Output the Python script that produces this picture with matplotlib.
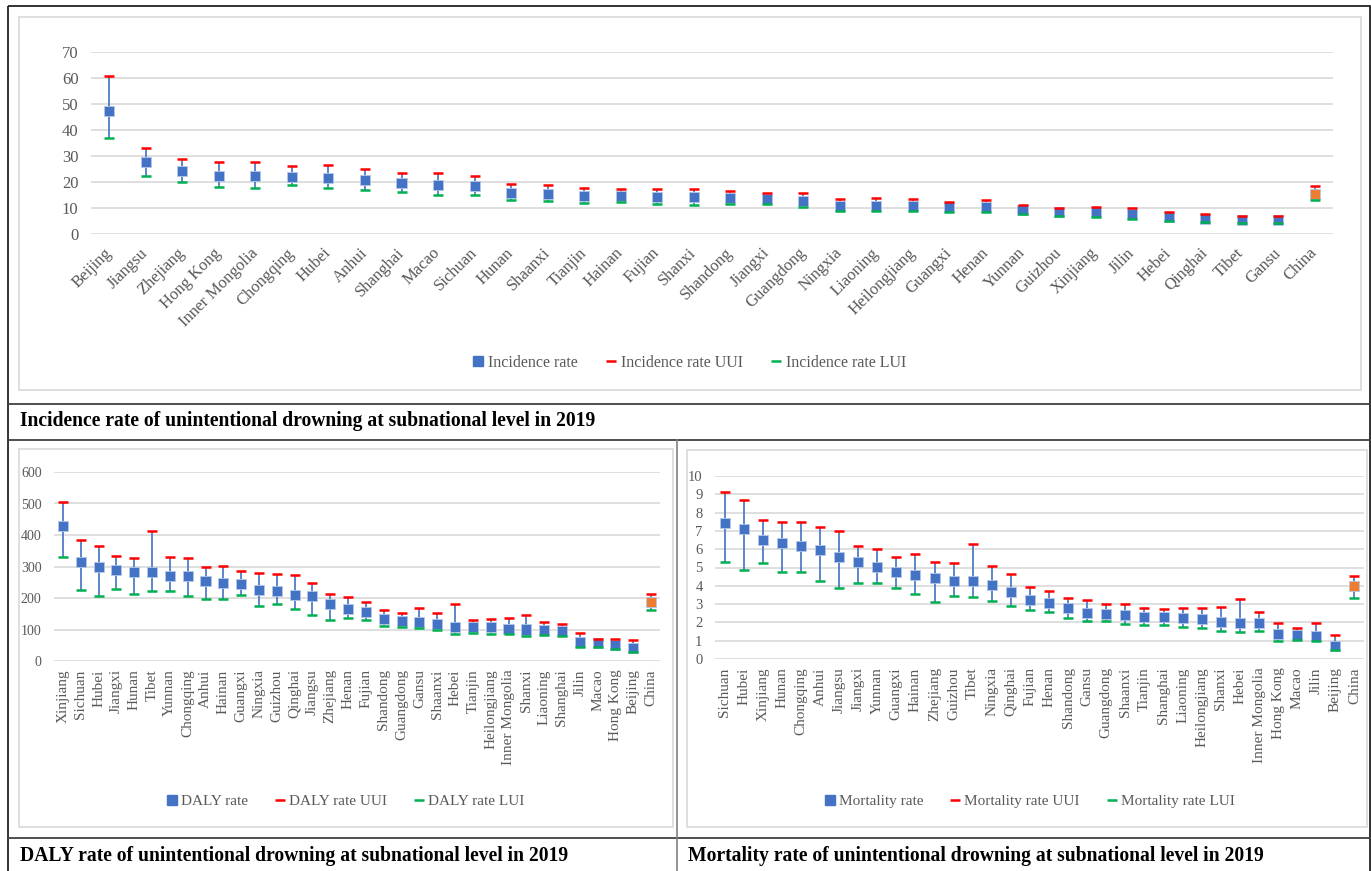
import matplotlib
matplotlib.use("Agg")
import matplotlib.pyplot as plt
from matplotlib.lines import Line2D
from matplotlib.patches import Rectangle
import numpy as np

plt.rcParams['font.family'] = ['Liberation Serif', 'DejaVu Serif']

# ---------------- incidence rate (per 100 000)
inc_regions = ["Beijing", "Jiangsu", "Zhejiang", "Hong Kong", "Inner Mongolia", "Chongqing",
               "Hubei", "Anhui", "Shanghai", "Macao", "Sichuan", "Hunan", "Shaanxi", "Tianjin",
               "Hainan", "Fujian", "Shanxi", "Shandong", "Jiangxi", "Guangdong", "Ningxia",
               "Liaoning", "Heilongjiang", "Guangxi", "Henan", "Yunnan", "Guizhou", "Xinjiang",
               "Jilin", "Hebei", "Qinghai", "Tibet", "Gansu", "China"]
inc_rate = [47.4, 27.8, 24.1, 22.4, 22.4, 22.1, 21.5, 20.6, 19.7, 18.8, 18.6, 15.9, 15.4, 14.6,
            14.6, 14.4, 14.1, 13.7, 13.5, 12.8, 10.9, 10.6, 10.6, 10.5, 10.5, 9.2, 8.5, 8.4,
            7.7, 6.7, 5.9, 5.3, 5.3, 15.5]
inc_uui = [60.6, 33.2, 28.7, 27.7, 27.7, 26.3, 26.4, 25.0, 23.6, 23.5, 22.3, 19.2, 18.8, 17.8,
           17.3, 17.4, 17.3, 16.7, 15.9, 15.6, 13.3, 13.7, 13.4, 12.4, 13.0, 11.3, 10.1, 10.4,
           10.0, 8.5, 7.6, 6.8, 6.8, 18.6]
inc_lui = [36.8, 22.4, 19.9, 18.2, 17.8, 18.7, 17.6, 17.0, 16.2, 15.0, 15.0, 13.1, 12.8, 12.0,
           12.2, 11.7, 11.3, 11.5, 11.5, 10.5, 9.0, 8.7, 8.7, 8.5, 8.5, 7.7, 6.9, 6.7,
           5.8, 5.1, 4.5, 4.1, 4.1, 13.0]

# ---------------- DALY rate
daly_regions = ["Xinjiang", "Sichuan", "Hubei", "Jiangxi", "Hunan", "Tibet", "Yunnan", "Chongqing",
                "Anhui", "Hainan", "Guangxi", "Ningxia", "Guizhou", "Qinghai", "Jiangsu", "Zhejiang",
                "Henan", "Fujian", "Shandong", "Guangdong", "Gansu", "Shaanxi", "Hebei", "Tianjin",
                "Heilongjiang", "Inner Mongolia", "Shanxi", "Liaoning", "Shanghai", "Jilin", "Macao",
                "Hong Kong", "Beijing", "China"]
daly_rate = [428, 315, 299, 289, 282, 281, 270, 269, 253, 249, 246, 224, 223, 209, 207, 180,
             164, 154, 134, 127, 124, 119, 107, 107, 107, 103, 100, 99, 95, 59, 56, 51, 40, 188]
daly_uui = [504, 383, 366, 333, 327, 413, 329, 327, 300, 303, 286, 279, 277, 274, 249, 212,
            204, 188, 161, 152, 168, 152, 181, 129, 134, 136, 146, 123, 116, 90, 71, 69, 67, 212]
daly_lui = [331, 225, 205, 229, 213, 221, 221, 207, 196, 197, 208, 176, 180, 165, 145, 130,
            136, 129, 112, 109, 106, 98, 85, 89, 86, 86, 80, 82, 78, 46, 44, 37, 29, 161]

# ---------------- mortality rate
mort_regions = ["Sichuan", "Hubei", "Xinjiang", "Hunan", "Chongqing", "Anhui", "Jiangsu", "Jiangxi",
                "Yunnan", "Guangxi", "Hainan", "Zhejiang", "Guizhou", "Tibet", "Ningxia", "Qinghai",
                "Fujian", "Henan", "Shandong", "Gansu", "Guangdong", "Shaanxi", "Tianjin", "Shanghai",
                "Liaoning", "Heilongjiang", "Shanxi", "Hebei", "Inner Mongolia", "Hong Kong", "Macao",
                "Jilin", "Beijing", "China"]
mort_rate = [7.44, 7.11, 6.51, 6.35, 6.16, 5.96, 5.58, 5.29, 5.04, 4.73, 4.58, 4.45, 4.27, 4.26,
             4.07, 3.64, 3.24, 3.07, 2.76, 2.49, 2.48, 2.40, 2.31, 2.29, 2.22, 2.18, 2.00, 1.97,
             1.96, 1.36, 1.33, 1.24, 0.71, 3.98]
mort_uui = [9.11, 8.71, 7.58, 7.47, 7.47, 7.22, 7.02, 6.16, 6.00, 5.55, 5.75, 5.31, 5.25, 6.29,
            5.07, 4.67, 3.91, 3.71, 3.33, 3.22, 2.98, 3.02, 2.78, 2.73, 2.80, 2.76, 2.82, 3.27,
            2.56, 1.95, 1.69, 1.95, 1.31, 4.51]
mort_lui = [5.29, 4.85, 5.22, 4.76, 4.73, 4.27, 3.87, 4.13, 4.16, 3.89, 3.56, 3.09, 3.44, 3.38,
            3.15, 2.91, 2.67, 2.55, 2.25, 2.07, 2.07, 1.93, 1.84, 1.87, 1.76, 1.71, 1.55, 1.49,
            1.55, 0.96, 1.02, 0.96, 0.47, 3.35]

BLUE = '#4472C4'
RED = '#FF0000'
GREEN = '#00B050'
ORANGE = '#ED7D31'
GREY_TXT = '#595959'
GRID = '#D9D9D9'

W, H = 1371, 871
fig = plt.figure(figsize=(W / 100, H / 100), dpi=100)

# background axes in pixel units for frames and captions
bg = fig.add_axes([0, 0, 1, 1])
bg.set_xlim(0, W)
bg.set_ylim(H, 0)
bg.axis('off')


def px_axes(x0, y0, x1, y1):
    return fig.add_axes([x0 / W, 1 - y1 / H, (x1 - x0) / W, (y1 - y0) / H])


def draw_panel(ax, regions, rate, uui, lui, ymax, step, ysize, xsize, rot):
    x = np.arange(len(regions))
    colors = [BLUE] * (len(regions) - 1) + [ORANGE]
    ax.vlines(x, lui, uui, color=BLUE, lw=1.2, zorder=2)
    ax.scatter(x, rate, marker='s', s=52, c=colors, edgecolors='#B4C7E7', linewidths=0.6, zorder=3)
    ax.scatter(x, uui, marker='_', s=55, c=RED, linewidths=1.8, zorder=4)
    ax.scatter(x, lui, marker='_', s=55, c=GREEN, linewidths=1.8, zorder=4)
    ax.set_xlim(-0.5, len(regions) - 0.5)
    ax.set_ylim(0, ymax)
    ax.set_yticks(np.arange(0, ymax + step / 2, step))
    ax.yaxis.grid(True, color=GRID, lw=1.2)
    ax.set_axisbelow(True)
    for s in ax.spines.values():
        s.set_visible(False)
    ax.set_facecolor('none')
    ax.set_xticks(x)
    if rot == 45:
        ax.set_xticklabels(regions, rotation=45, ha='right', va='center', rotation_mode='anchor')
        ax.tick_params(axis='x', length=0, pad=12, labelsize=xsize, labelcolor=GREY_TXT)
    else:
        ax.set_xticklabels(regions, rotation=90, ha='center', va='top')
        ax.tick_params(axis='x', length=0, pad=6, labelsize=xsize, labelcolor=GREY_TXT)
    ax.tick_params(axis='y', length=0, pad=9, labelsize=ysize, labelcolor=GREY_TXT)


def add_legend(ax, name, cx, cy, size):
    handles = [
        Line2D([], [], ls='none', marker='s', color=BLUE, markersize=7),
        Line2D([], [], ls='none', marker='_', color=RED, markersize=7, mew=1.8),
        Line2D([], [], ls='none', marker='_', color=GREEN, markersize=7, mew=1.8),
    ]
    labels = [name, name + ' UUI', name + ' LUI']
    leg = ax.legend(handles, labels, loc='center', bbox_to_anchor=(cx, cy),
                    bbox_transform=bg.transData, ncol=3, frameon=False, fontsize=size,
                    handlelength=0.6, handletextpad=0.3, columnspacing=1.8)
    for t in leg.get_texts():
        t.set_color(GREY_TXT)


# ---------------- panel frames
lw_dark = 1.3
bg.add_patch(Rectangle((8, 6), 1362, 870, fill=False, ec='#222222', lw=lw_dark))
bg.plot([8, 1370], [404, 404], color='#404040', lw=lw_dark)
bg.plot([8, 1370], [440, 440], color='#404040', lw=lw_dark)
bg.plot([8, 1370], [838, 838], color='#404040', lw=lw_dark)
bg.plot([677, 677], [440, 871], color='#808080', lw=1.2)
# chart areas
bg.add_patch(Rectangle((19, 17), 1342, 373, fill=False, ec=GRID, lw=1.2))
bg.add_patch(Rectangle((19, 449), 654, 378, fill=False, ec=GRID, lw=1.2))
bg.add_patch(Rectangle((687, 450), 680, 377, fill=False, ec=GRID, lw=1.2))

cap_kw = dict(fontsize=14.1, fontweight='bold', color='black', va='center', ha='left')
bg.text(20, 421, 'Incidence rate of unintentional drowning at subnational level in 2019', **cap_kw)
bg.text(20, 856, 'DALY rate of unintentional drowning at subnational level in 2019', **cap_kw)
bg.text(688, 856, 'Mortality rate of unintentional drowning at subnational level in 2019', **cap_kw)

# ---------------- incidence
ax1 = px_axes(91, 52, 1333, 234)
draw_panel(ax1, inc_regions, inc_rate, inc_uui, inc_lui, 70, 10, 12, 12, 45)
add_legend(ax1, 'Incidence rate', 690, 363, 11.5)

# ---------------- DALY
ax2 = px_axes(54, 472, 660, 661)
draw_panel(ax2, daly_regions, daly_rate, daly_uui, daly_lui, 600, 100, 10, 11, 90)
add_legend(ax2, 'DALY rate', 346, 801, 11)

# ---------------- mortality
ax3 = px_axes(715, 476, 1364, 659)
draw_panel(ax3, mort_regions, mort_rate, mort_uui, mort_lui, 10, 1, 10.5, 11, 90)
add_legend(ax3, 'Mortality rate', 1030, 801, 11)

fig.savefig('out.png', dpi=100)
